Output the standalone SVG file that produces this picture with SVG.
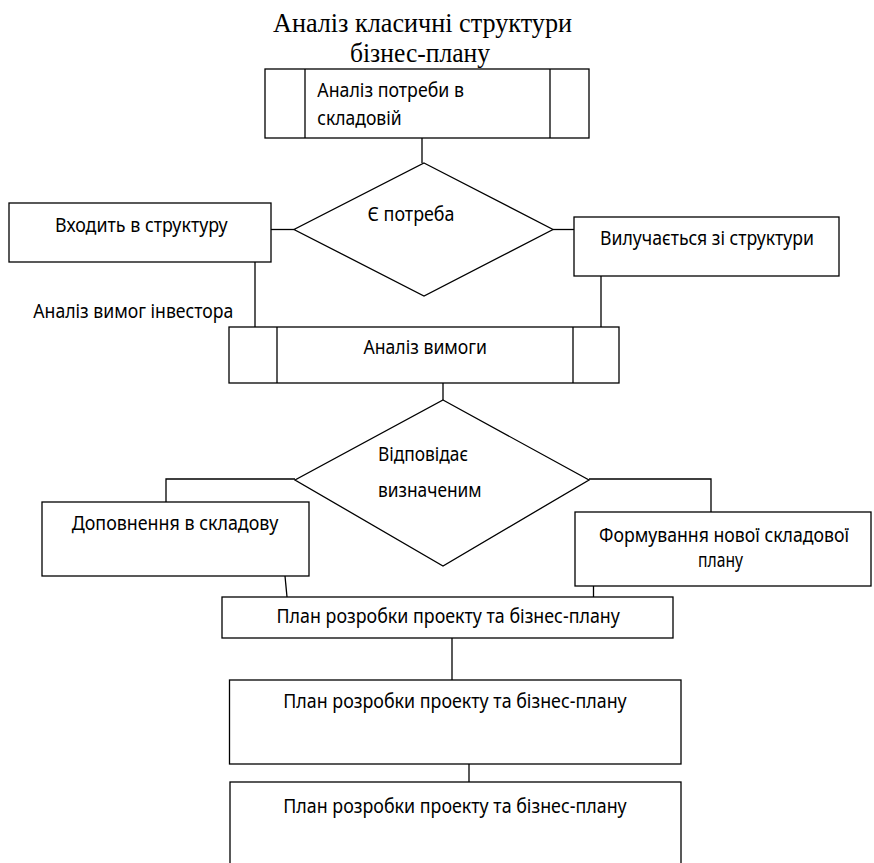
<svg xmlns="http://www.w3.org/2000/svg" width="874" height="863" viewBox="0 0 874 863">
<style>
.s{fill:#fff;stroke:#000;stroke-width:1.3}
.l{fill:none;stroke:#000;stroke-width:1.3}
.t{font-family:"Noto Sans","Open Sans","DejaVu Sans",sans-serif;font-size:19px;fill:#000}
.h{font-family:"Liberation Serif","DejaVu Serif",serif;font-size:28px;fill:#000}
</style>
<rect width="874" height="863" fill="#fff"/>
<g id="title">
<text class="h" x="273" y="31.7" textLength="299" lengthAdjust="spacingAndGlyphs">Аналіз класичні структури</text>
<text class="h" x="350" y="61.7" textLength="140" lengthAdjust="spacingAndGlyphs">бізнес-плану</text>
</g>
<g id="connectors">
<line class="l" x1="422" y1="138" x2="422" y2="163"/>
<line class="l" x1="271" y1="229.5" x2="294" y2="229.5"/>
<line class="l" x1="553" y1="229.5" x2="574" y2="229.5"/>
<line class="l" x1="255" y1="262" x2="255" y2="327"/>
<line class="l" x1="601" y1="276" x2="601" y2="327"/>
<line class="l" x1="443" y1="383" x2="443" y2="400"/>
<polyline class="l" points="295,479 166,479 166,504"/>
<polyline class="l" points="589,479 711,479 711,512"/>
<line class="l" x1="285" y1="576" x2="287" y2="597"/>
<line class="l" x1="593.5" y1="586" x2="593.5" y2="597"/>
<line class="l" x1="452" y1="638" x2="452" y2="680"/>
<line class="l" x1="469" y1="764" x2="469" y2="782"/>
</g>
<g id="n1">
<rect class="s" x="265" y="69" width="324" height="69"/>
<line class="l" x1="305" y1="69" x2="305" y2="138"/>
<line class="l" x1="550" y1="69" x2="550" y2="138"/>
<text class="t" x="317.3" y="97.3" textLength="146.7" lengthAdjust="spacingAndGlyphs">Аналіз потреби в</text>
<text class="t" x="317.3" y="124.5" textLength="84.4" lengthAdjust="spacingAndGlyphs">складовій</text>
</g>
<g id="d1">
<polygon class="s" points="424,163 553,229.5 424,296 294,229.5"/>
<text class="t" x="367.5" y="221" textLength="87" lengthAdjust="spacingAndGlyphs">Є потреба</text>
</g>
<g id="n2">
<rect class="s" x="9" y="203" width="262" height="59"/>
<text class="t" x="55" y="232" textLength="172.7" lengthAdjust="spacingAndGlyphs">Входить в структуру</text>
</g>
<g id="n3">
<rect class="s" x="574" y="217" width="265" height="59"/>
<text class="t" x="600" y="245" textLength="214" lengthAdjust="spacingAndGlyphs">Вилучається зі структури</text>
</g>
<g id="label1">
<text class="t" x="33.3" y="318" textLength="200" lengthAdjust="spacingAndGlyphs">Аналіз вимог інвестора</text>
</g>
<g id="n4">
<rect class="s" x="229" y="327" width="390" height="56"/>
<line class="l" x1="277" y1="327" x2="277" y2="383"/>
<line class="l" x1="573" y1="327" x2="573" y2="383"/>
<text class="t" x="363.5" y="354" textLength="123.5" lengthAdjust="spacingAndGlyphs">Аналіз вимоги</text>
</g>
<g id="d2">
<polygon class="s" points="443,400 589,480 443,566 295,480"/>
<text class="t" x="378" y="461" textLength="90" lengthAdjust="spacingAndGlyphs">Відповідає</text>
<text class="t" x="378" y="497" textLength="103.6" lengthAdjust="spacingAndGlyphs">визначеним</text>
</g>
<g id="n5">
<rect class="s" x="42" y="502" width="267" height="74"/>
<text class="t" x="71.7" y="530" textLength="206.6" lengthAdjust="spacingAndGlyphs">Доповнення в складову</text>
</g>
<g id="n6">
<rect class="s" x="575" y="512" width="296" height="74"/>
<text class="t" x="599" y="541.7" textLength="250" lengthAdjust="spacingAndGlyphs">Формування нової складової</text>
<text class="t" x="698" y="566.7" textLength="45" lengthAdjust="spacingAndGlyphs">плану</text>
</g>
<g id="n7">
<rect class="s" x="222" y="597" width="451" height="41"/>
<text class="t" x="276.5" y="623" textLength="343.4" lengthAdjust="spacingAndGlyphs">План розробки проекту та бізнес-плану</text>
</g>
<g id="n8">
<rect class="s" x="229.5" y="680" width="451.5" height="84"/>
<text class="t" x="283.3" y="708.3" textLength="343.4" lengthAdjust="spacingAndGlyphs">План розробки проекту та бізнес-плану</text>
</g>
<g id="n9">
<rect class="s" x="230" y="782" width="451" height="100"/>
<text class="t" x="283.3" y="813" textLength="343.4" lengthAdjust="spacingAndGlyphs">План розробки проекту та бізнес-плану</text>
</g>
</svg>
